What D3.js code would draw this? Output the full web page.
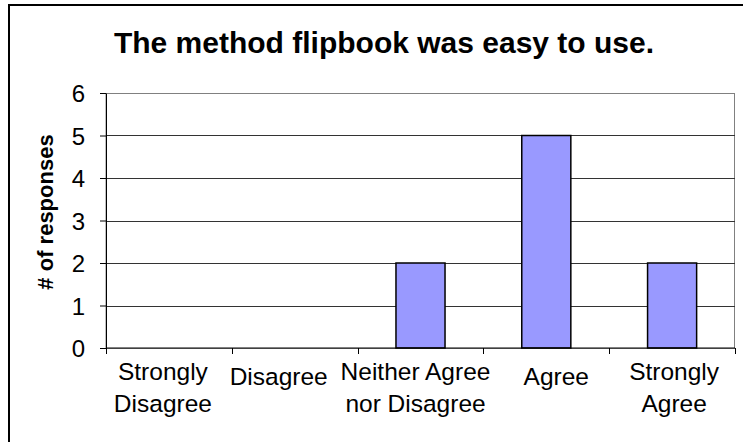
<!DOCTYPE html>
<html>
<head>
<meta charset="utf-8">
<script src="https://cdn.jsdelivr.net/npm/d3@7"></script>
<style>
  body { margin: 0; background: #fff; }
  text { font-family: Arial, "Liberation Sans", sans-serif; fill: #000; }
</style>
</head>
<body>
<div id="chart"></div>
<script>
// chart data
var categories = ["Strongly Disagree", "Disagree", "Neither Agree nor Disagree", "Agree", "Strongly Agree"];
var tickLabels = [["Strongly", "Disagree"], ["Disagree"], ["Neither Agree", "nor Disagree"], ["Agree"], ["Strongly", "Agree"]];
var responses = [0, 0, 2, 5, 2];
var yTicks = [0, 1, 2, 3, 4, 5, 6];
var title = "The method flipbook was easy to use.";
var yTitle = "# of responses";

var svgWidth = 743;
var svgHeight = 442;

var margin = { top: 93, right: 8, bottom: 94, left: 106 };
var width = svgWidth - margin.left - margin.right;
var height = svgHeight - margin.top - margin.bottom;

// small horizontal nudges so the wrapped labels don't collide (as the original does)
var labelNudge = [-6, -16, -5, 10, 2];

// pair categories with values
var barData = categories.map((c, i) => ({ category: c, value: responses[i] }));

var svg = d3.select("#chart")
  .append("svg")
  .attr("width", svgWidth)
  .attr("height", svgHeight);

// outer border of the chart object
svg.append("rect")
  .attr("x", 9)
  .attr("y", 5)
  .attr("width", 760)
  .attr("height", 460)
  .attr("fill", "none")
  .attr("stroke", "#000")
  .attr("stroke-width", 2);

svg.append("text")
  .attr("x", 384)
  .attr("y", 53)
  .attr("text-anchor", "middle")
  .attr("font-size", "30px")
  .attr("font-weight", "bold")
  .text(title);

var chartGroup = svg.append("g")
  .attr("transform", `translate(${margin.left}, ${margin.top})`);

// scales
var xScale = d3.scaleBand()
  .domain(categories)
  .range([0, width])
  .paddingInner(0.61)
  .paddingOuter(0.305);

var yScale = d3.scaleLinear()
  .domain([0, 6])
  .range([height, 0]);

// plot area frame
chartGroup.append("rect")
  .attr("x", 0)
  .attr("y", 0.5)
  .attr("width", width - 0.5)
  .attr("height", height)
  .attr("fill", "none")
  .attr("stroke", "#808080")
  .attr("stroke-width", 1);

// gridlines
chartGroup.selectAll(".grid")
  .data(yTicks.slice(1, -1))
  .enter()
  .append("line")
  .attr("x1", 0)
  .attr("x2", width)
  .attr("y1", d => Math.round(yScale(d)) + 0.5)
  .attr("y2", d => Math.round(yScale(d)) + 0.5)
  .attr("stroke", "#333")
  .attr("stroke-width", 1);

// bars (zero counts draw nothing)
chartGroup.selectAll(".bar")
  .data(barData.filter(d => d.value > 0))
  .enter()
  .append("rect")
  .attr("class", "bar")
  .attr("x", d => xScale(d.category))
  .attr("y", d => yScale(d.value))
  .attr("width", xScale.bandwidth())
  .attr("height", d => height - yScale(d.value))
  .attr("fill", "#9999ff")
  .attr("stroke", "#000")
  .attr("stroke-width", 1.5);

// y axis
var yAxis = d3.axisLeft(yScale)
  .tickValues(yTicks)
  .tickFormat(d3.format("d"))
  .tickSize(6)
  .tickSizeOuter(0)
  .tickPadding(15);

var yAxisGroup = chartGroup.append("g")
  .call(yAxis);

yAxisGroup.select(".domain").attr("stroke", "#000");
yAxisGroup.selectAll("line").attr("stroke", "#000");
yAxisGroup.selectAll("text")
  .attr("font-size", "24px")
  .attr("font-family", "Arial, 'Liberation Sans', sans-serif")
  .attr("dy", "0.36em");

// x axis line and ticks at category boundaries
var gap = xScale.step() - xScale.bandwidth();
var boundaries = categories.map(c => xScale(c) - gap / 2);
boundaries.push(width);

chartGroup.append("line")
  .attr("x1", 0)
  .attr("x2", width)
  .attr("y1", height)
  .attr("y2", height)
  .attr("stroke", "#000");

chartGroup.selectAll(".xtick")
  .data(boundaries)
  .enter()
  .append("line")
  .attr("x1", d => Math.round(d) + 0.5)
  .attr("x2", d => Math.round(d) + 0.5)
  .attr("y1", height)
  .attr("y2", height + 6)
  .attr("stroke", "#000");

// category labels (wrapped)
var labelGroups = chartGroup.selectAll(".xlabel")
  .data(tickLabels)
  .enter()
  .append("text")
  .attr("text-anchor", "middle")
  .attr("font-size", "24.5px")
  .attr("transform", (d, i) => `translate(${xScale(categories[i]) + xScale.bandwidth() / 2 + labelNudge[i]}, ${d.length > 1 ? height + 32 : height + 37})`);

labelGroups.selectAll("tspan")
  .data(d => d)
  .enter()
  .append("tspan")
  .attr("x", 0)
  .attr("dy", (d, i) => i === 0 ? 0 : 32)
  .text(d => d);

// y axis title
svg.append("text")
  .attr("transform", `translate(53, 212) rotate(-90)`)
  .attr("text-anchor", "middle")
  .attr("font-size", "22px")
  .attr("font-weight", "bold")
  .text(yTitle);
</script>
</body>
</html>
